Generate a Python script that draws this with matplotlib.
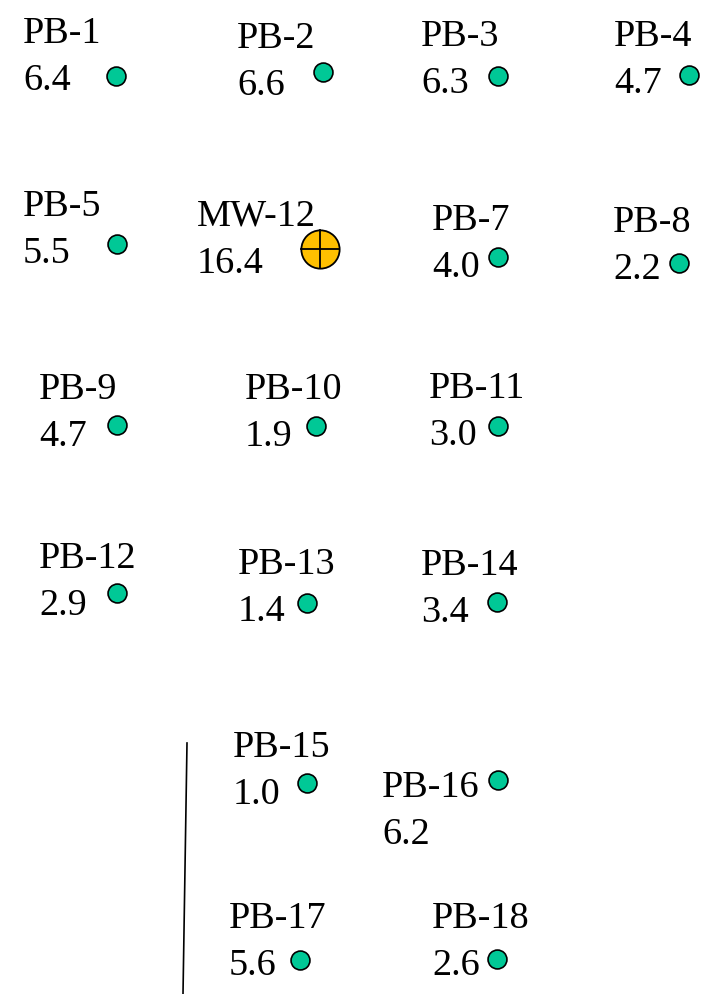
import matplotlib.pyplot as plt

# well names, concentrations and map positions (px-like site coordinates)
names = ['PB-1', 'PB-2', 'PB-3', 'PB-4', 'PB-5', 'MW-12', 'PB-7', 'PB-8',
         'PB-9', 'PB-10', 'PB-11', 'PB-12', 'PB-13', 'PB-14', 'PB-15',
         'PB-16', 'PB-17', 'PB-18']
values = ['6.4', '6.6', '6.3', '4.7', '5.5', '16.4', '4.0', '2.2',
          '4.7', '1.9', '3.0', '2.9', '1.4', '3.4', '1.0',
          '6.2', '5.6', '2.6']
well_x = [116, 323, 498, 689, 117, 320, 498, 679,
          117, 316, 498, 117, 307, 497, 307, 498, 300, 497]
well_y = [76, 72, 76, 75, 244, 249, 257, 263,
          425, 426, 426, 593, 603, 602, 783, 780, 960, 959]
# label anchor (left, baseline of name line)
label_x = [23, 237, 421, 614, 23, 197, 432, 613,
           39, 245, 429, 39, 238, 421, 233, 382, 229, 432]
label_y = [43, 48, 46, 46, 216, 226, 230, 232,
           399, 399, 398, 568, 574, 575, 757, 797, 928, 928]
line_gap = 47

W, H = 719, 994
fig = plt.figure(figsize=(W / 100, H / 100), dpi=100)
ax = fig.add_axes([0, 0, 1, 1])
ax.set_xlim(0, W)
ax.set_ylim(H, 0)
ax.axis('off')

font = dict(family='Liberation Serif', fontsize=27.5, color='black')

for n, v, wx, wy, lx, ly in zip(names, values, well_x, well_y, label_x, label_y):
    ax.text(lx, ly, n, ha='left', va='baseline', **font)
    ax.text(lx, ly + line_gap, v, ha='left', va='baseline', **font)
    if n == 'MW-12':
        ax.scatter([wx], [wy], s=760, c='#FFC000', edgecolors='black',
                   linewidths=1.3, zorder=3)
        ax.plot([wx - 19, wx + 19], [wy, wy], color='black', lw=1.3, zorder=4)
        ax.plot([wx, wx], [wy - 19, wy + 19], color='black', lw=1.3, zorder=4)
    else:
        ax.scatter([wx], [wy], s=185, c='#00C896', edgecolors='black',
                   linewidths=1.2, zorder=3)

# boundary line
ax.plot([187, 183], [743, 994], color='black', lw=1.2)

fig.savefig('out.png', dpi=100)
